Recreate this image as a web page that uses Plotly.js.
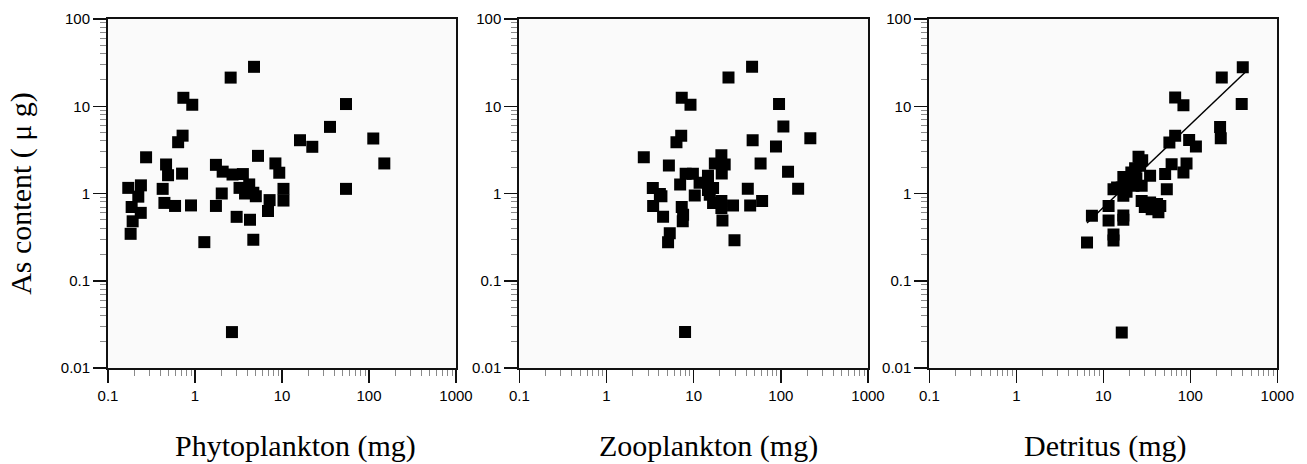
<!DOCTYPE html>
<html>
<head>
<meta charset="utf-8">
<script src="https://cdn.plot.ly/plotly-3.0.1.min.js"></script>
<style>
html,body{margin:0;padding:0;background:#fff;}
#chart{width:1307px;height:464px;}
</style>
</head>
<body>
<div id="chart"></div>
<script>
// ---- Data ----
const phytoX = [4.77,2.57,0.735,0.93,54.4,35.6,0.72,0.64,112,16.1,22.3,0.274,5.3,150,8.4,0.465,1.74,0.49,0.71,2.08,2.7,3.55,9.3,0.171,0.239,0.425,3.25,4.2,10.4,54.4,2.03,3.76,4.68,5.0,0.223,0.187,0.445,0.59,0.90,1.74,7.2,10.4,6.9,0.238,0.192,3.01,4.29,0.182,1.28,4.68,2.66];
const phytoY = [28.3,21.3,12.5,10.4,10.6,5.8,4.6,3.87,4.27,4.08,3.43,2.6,2.7,2.21,2.21,2.15,2.13,1.62,1.69,1.78,1.65,1.67,1.73,1.16,1.24,1.13,1.16,1.27,1.13,1.13,1.0,1.0,1.02,0.93,0.92,0.70,0.78,0.72,0.73,0.72,0.84,0.83,0.63,0.60,0.48,0.54,0.50,0.345,0.277,0.295,0.0258];

const zooX = [46.8,25.1,7.3,9.2,95.4,107,7.2,6.35,218,47.5,88,2.68,20.8,58.6,22.7,17.5,5.2,121,8.1,9.8,21,14.6,3.4,41.8,158,7.0,11.7,14.6,14.6,16.7,4.1,4.27,10.3,15.3,3.43,7.3,61,44.5,28.3,16.7,20.8,20.8,4.46,7.57,7.5,21.4,5.32,5.09,29.4,7.97];
const zooY = [28.3,21.3,12.5,10.4,10.6,5.85,4.6,3.87,4.3,4.08,3.45,2.6,2.75,2.21,2.15,2.2,2.1,1.78,1.68,1.68,1.7,1.6,1.16,1.13,1.13,1.27,1.33,1.45,1.1,1.16,0.99,0.93,0.95,0.97,0.72,0.70,0.82,0.73,0.73,0.78,0.82,0.68,0.54,0.57,0.48,0.49,0.35,0.277,0.292,0.0258];

const detX = [401,230,67,83.4,390,220,224,67,57.5,97,116,61,90.5,83.4,51.4,34.5,53.7,25.4,28,26.5,23.2,21,17,19.5,16.3,14.4,13.1,22.2,27.6,17,18.5,27.6,34.5,41.5,45.2,36,43,30,11.5,7.4,11.5,17,17,13.1,13.1,6.5,16.3,20,24];
const detY = [27.9,21.4,12.6,10.3,10.6,5.8,4.3,4.59,3.85,4.1,3.46,2.17,2.21,1.74,1.67,1.6,1.12,2.64,2.4,2.08,1.95,1.74,1.55,1.40,1.17,1.17,1.12,1.23,1.23,0.94,1.05,0.82,0.79,0.76,0.72,0.66,0.61,0.70,0.72,0.555,0.49,0.56,0.50,0.34,0.29,0.274,0.0255,1.3,1.5];

// regression line (Detritus)
const fitX = [6.5, 425];
const fitY = [0.46, 24.4];

const xTickVals = [0.1, 1, 10, 100, 1000];
const xTickText = ['0.1', '1', '10', '100', '1000'];
const yTickVals = [0.01, 0.1, 1, 10, 100];
const yTickText = ['0.01', '0.1', '1', '10', '100'];

const xTitles = ['Phytoplankton (mg)', 'Zooplankton (mg)', 'Detritus (mg)'];
const yTitle = 'As content ( \u03bc g)';

// ---- Layout helpers ----
const W = 1307, H = 464;
const panelsPx = [[108, 456], [519.3, 868], [929.3, 1277.3]];
const titleCentersPx = [295, 708, 1105];
const yTopPx = 19, yBotPx = 368;

const tickFont = {family: 'Liberation Sans, Arial, sans-serif', size: 15, color: '#000'};
const titleFont = {family: 'Liberation Serif, Times New Roman, serif', size: 30, color: '#000'};

function xAxis(i) {
  return {
    type: 'log', range: [-1, 3],
    domain: [panelsPx[i][0] / W, panelsPx[i][1] / W],
    anchor: i === 0 ? 'y' : 'y' + (i + 1),
    showgrid: false, zeroline: false,
    showline: true, mirror: true, linecolor: '#111', linewidth: 2,
    ticks: 'outside', ticklen: 13, tickwidth: 1.5, tickcolor: '#111',
    tickmode: 'array', tickvals: xTickVals, ticktext: xTickText,
    tickfont: tickFont,
    minor: {ticks: 'outside', ticklen: 6, tickwidth: 1, tickcolor: '#8a8a8a', dtick: 'D1', showgrid: false},
    automargin: false, fixedrange: true
  };
}
function yAxis(i, title) {
  return {
    type: 'log', range: [-2, 2],
    domain: [(H - yBotPx) / H, (H - yTopPx) / H],
    anchor: i === 0 ? 'x' : 'x' + (i + 1),
    showgrid: false, zeroline: false,
    showline: true, mirror: true, linecolor: '#111', linewidth: 2,
    ticks: 'outside', ticklen: 13, tickwidth: 1.5, tickcolor: '#111',
    tickmode: 'array', tickvals: yTickVals, ticktext: yTickText,
    tickfont: tickFont,
    minor: {ticks: 'outside', ticklen: 6, tickwidth: 1, tickcolor: '#8a8a8a', dtick: 'D1', showgrid: false},
    title: title ? {text: title, font: titleFont, standoff: 20} : {text: ''},
    automargin: false, fixedrange: true
  };
}

const marker = {symbol: 'square', size: 12, color: '#000', line: {width: 0}};

const traces = [
  {type: 'scatter', mode: 'markers', x: phytoX, y: phytoY, xaxis: 'x', yaxis: 'y', marker: marker, name: 'Phytoplankton'},
  {type: 'scatter', mode: 'markers', x: zooX, y: zooY, xaxis: 'x2', yaxis: 'y2', marker: marker, name: 'Zooplankton'},
  {type: 'scatter', mode: 'markers', x: detX, y: detY, xaxis: 'x3', yaxis: 'y3', marker: marker, name: 'Detritus'},
  {type: 'scatter', mode: 'lines', x: fitX, y: fitY, xaxis: 'x3', yaxis: 'y3', line: {color: '#000', width: 1.5}, name: 'fit'}
];

const annotations = xTitles.map((t, i) => ({
  text: t, xref: 'paper', yref: 'paper',
  x: titleCentersPx[i] / W, y: (H - 446) / H,
  xanchor: 'center', yanchor: 'middle', showarrow: false,
  font: titleFont
}));

const layout = {
  width: W, height: H,
  margin: {l: 0, r: 0, t: 0, b: 0},
  paper_bgcolor: '#ffffff',
  plot_bgcolor: '#fafafa',
  showlegend: false,
  xaxis: xAxis(0),
  xaxis2: xAxis(1),
  xaxis3: xAxis(2),
  yaxis: yAxis(0, yTitle),
  yaxis2: yAxis(1, null),
  yaxis3: yAxis(2, null),
  annotations: annotations
};

Plotly.newPlot('chart', traces, layout, {displayModeBar: false, staticPlot: true});
</script>
</body>
</html>
